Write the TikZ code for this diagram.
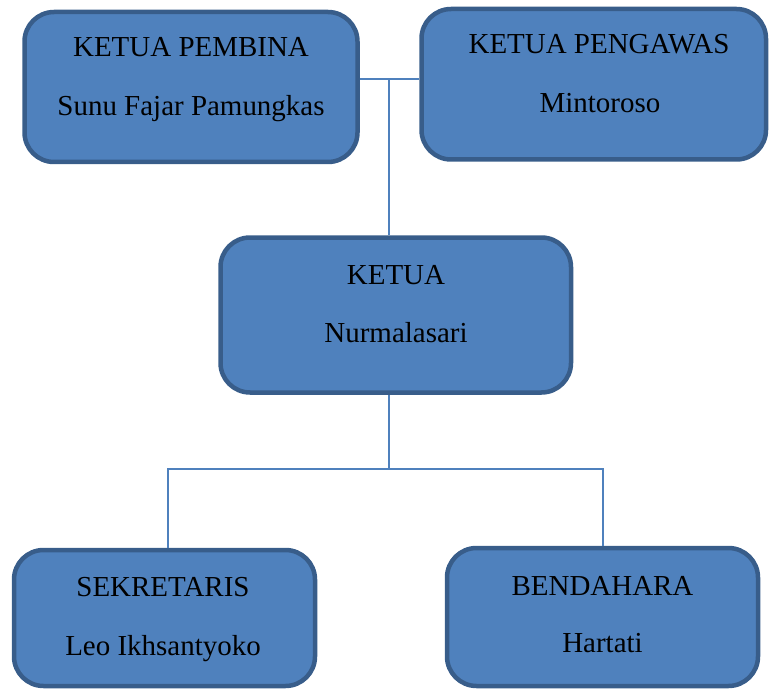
\documentclass[tikz,border=0pt]{standalone}
\usepackage{fontspec}
\setmainfont{Liberation Serif}
\usepackage{tikz}
\usetikzlibrary{positioning}
\definecolor{boxfill}{HTML}{4F81BD}
\definecolor{boxline}{HTML}{385D8A}
\definecolor{linkline}{HTML}{4F81BD}
\tikzset{
  orgbox/.style={draw=boxline, fill=boxfill, line width=3.2pt, rounded corners=21pt, inner sep=0pt},
  roletext/.style={anchor=base, inner sep=0pt, font=\fontsize{20.6}{24}\selectfont},
  link/.style={draw=linkline, line width=1.1pt}
}
\begin{document}
\begin{tikzpicture}[x=0.025cm,y=-0.025cm]
		\useasboundingbox (0,0) rectangle (769,689);
		%Boxes of the structure
		\node[orgbox, minimum width=333*0.025cm, minimum height=150*0.025cm] (pembina) at (191,87) {};
		\node[orgbox, minimum width=344.5*0.025cm, minimum height=150.5*0.025cm] (pengawas) at (593.75,84.25) {};
		\node[orgbox, minimum width=350.5*0.025cm, minimum height=155*0.025cm] (ketua) at (395.75,315) {};
		\node[orgbox, minimum width=301*0.025cm, minimum height=136*0.025cm] (sekretaris) at (164.5,618) {};
		\node[orgbox, minimum width=311*0.025cm, minimum height=138*0.025cm] (bendahara) at (602.5,617) {};
		%Titles and names
		\node[roletext] (pembinaT) at (191,57) {KETUA PEMBINA};
		\node[roletext] (pembinaN) at (191,116) {Sunu Fajar Pamungkas};
		\node[roletext] (pengawasT) at (599,54) {KETUA PENGAWAS};
		\node[roletext] (pengawasN) at (600,113) {Mintoroso};
		\node[roletext] (ketuaT) at (396,284) {KETUA};
		\node[roletext] (ketuaN) at (396,342) {Nurmalasari};
		\node[roletext] (sekretarisT) at (163,596) {SEKRETARIS};
		\node[roletext] (sekretarisN) at (163,655) {Leo Ikhsantyoko};
		\node[roletext] (bendaharaT) at (602.5,595) {BENDAHARA};
		\node[roletext] (bendaharaN) at (602.5,652) {Hartati};
		%Connectors
		\coordinate (topjoin) at (389,79);
		\coordinate (botjoin) at (389,469);
		\coordinate (sekjoin) at (168,469);
		\coordinate (benjoin) at (603,469);
		\draw[link] (pembina.east |- topjoin) -- (pengawas.west |- topjoin);
		\draw[link] (topjoin) -- (topjoin |- ketua.north);
		\draw[link] (botjoin |- ketua.south) -- (botjoin);
		\draw[link] (sekjoin |- sekretaris.north) -- (sekjoin) -- (benjoin) -- (benjoin |- bendahara.north);
\end{tikzpicture}
\end{document}
